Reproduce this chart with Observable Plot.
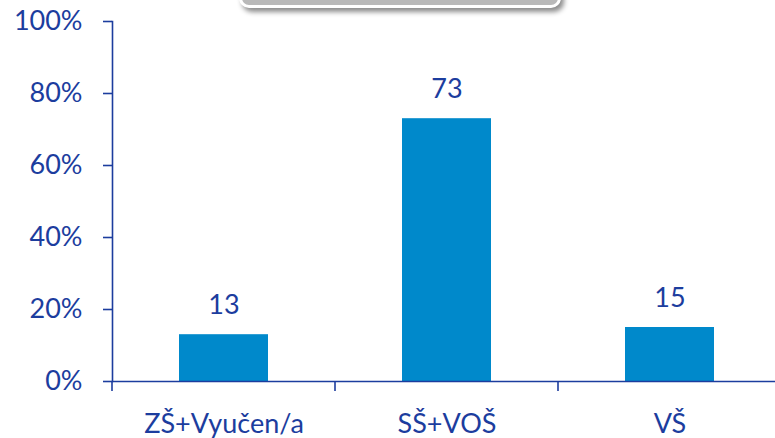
<!DOCTYPE html>
<html><head><meta charset="utf-8">
<script src="https://cdn.jsdelivr.net/npm/d3@7"></script>
<script src="https://cdn.jsdelivr.net/npm/@observablehq/plot@0.6"></script>
<style>
html,body{margin:0;padding:0;background:#fff;overflow:hidden;}
#wrap{position:relative;width:775px;height:438px;}
#box{position:absolute;left:239px;top:-40px;width:316px;height:42px;background:#b9b9b9;border:3px solid #fff;border-radius:10px;box-shadow:3px 4px 5px rgba(0,0,0,0.45);}
</style></head>
<body><div id="wrap"><div id="box"></div></div>
<script>
const categories = ["ZŠ+Vyučen/a", "SŠ+VOŠ", "VŠ"];
const values = [13, 73, 15];
const yTicks = [0, 20, 40, 60, 80, 100];

const blue = "#1c3d9e";
const barColor = "#0089cb";
const data = categories.map((c, i) => ({cat: c, v: values[i]}));

const boundaryTicks = (index, scales) => {
  const x = scales.x, y = scales.y;
  const step = x.step(), bw = x.bandwidth();
  const g = d3.create("svg:g");
  const xs = categories.map(c => x(c) - (step - bw) / 2);
  xs.push(x(categories[categories.length - 1]) + bw + (step - bw) / 2);
  for (const px of xs) {
    g.append("line").attr("x1", px).attr("x2", px).attr("y1", y(0)).attr("y2", y(0) + 10)
      .attr("stroke", blue).attr("stroke-width", 1.6);
  }
  return g.node();
};

const chart = Plot.plot({
  width: 775,
  height: 438,
  marginLeft: 112,
  marginRight: 0,
  marginTop: 21,
  marginBottom: 57,
  style: {fontFamily: "Lato, sans-serif", fontSize: "27px", color: blue, background: "transparent"},
  x: {domain: categories, range: [112, 781], paddingInner: 0.6, paddingOuter: 0.3, align: 0.5},
  y: {domain: [0, 100]},
  marks: [
    Plot.barY(data, {x: "cat", y: "v", fill: barColor}),
    Plot.text(data, {x: "cat", y: "v", text: d => String(d.v), dy: -29, fill: blue, fontSize: 27}),
    Plot.axisY({ticks: yTicks, tickFormat: d => d + "%", tickSize: 9, tickPadding: 21, stroke: blue, strokeWidth: 1.6, fill: blue, fontSize: 27, label: null}),
    Plot.axisX({tickSize: 0, tickPadding: 32, fill: blue, fontSize: 27, label: null}),
    Plot.frame({anchor: "left", stroke: blue, strokeWidth: 1.6}),
    Plot.ruleY([0], {stroke: blue, strokeWidth: 1.6}),
    boundaryTicks
  ]
});
chart.style.position = "absolute";
chart.style.left = "0";
chart.style.top = "0";
chart.style.overflow = "visible";
document.getElementById("wrap").appendChild(chart);
</script>
</body></html>
